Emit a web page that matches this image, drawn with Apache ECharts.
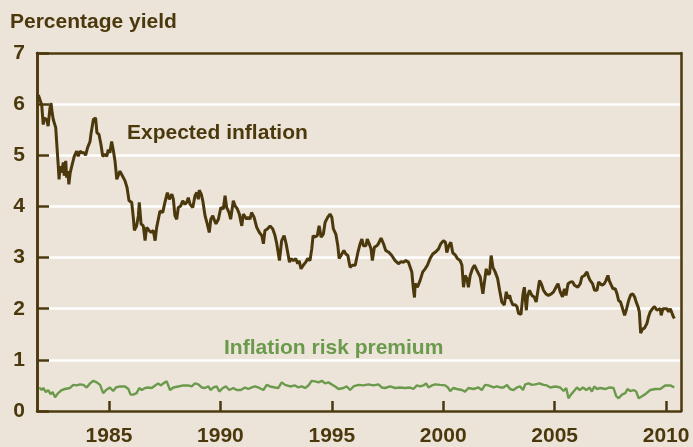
<!DOCTYPE html>
<html>
<head>
<meta charset="utf-8">
<script src="https://cdn.jsdelivr.net/npm/echarts@6/dist/echarts.min.js"></script>
<style>
html, body { margin: 0; padding: 0; background: #ece4d8; }
#chart { width: 693px; height: 447px; }
</style>
</head>
<body>
<div id="chart"></div>
<script>
// expected inflation (year, percent)
var expYears = [
  1981.83, 1981.90, 1981.98, 1982.05, 1982.09, 1982.20, 1982.27, 1982.35, 1982.40, 1982.45,
  1982.50, 1982.54, 1982.61, 1982.66, 1982.72, 1982.76, 1982.81, 1982.88, 1982.95, 1982.99,
  1983.06, 1983.10, 1983.15, 1983.20, 1983.26, 1983.35, 1983.44, 1983.55, 1983.62, 1983.70,
  1983.80, 1983.89, 1983.95, 1984.04, 1984.15, 1984.19, 1984.30, 1984.40, 1984.46, 1984.55,
  1984.64, 1984.72, 1984.82, 1984.90, 1984.97, 1985.04, 1985.12, 1985.19, 1985.27, 1985.35,
  1985.42, 1985.49, 1985.60, 1985.72, 1985.81, 1985.90, 1986.02, 1986.09, 1986.14, 1986.24,
  1986.32, 1986.36, 1986.44, 1986.54, 1986.62, 1986.69, 1986.80, 1986.89, 1986.99, 1987.07,
  1987.14, 1987.29, 1987.41, 1987.51, 1987.62, 1987.71, 1987.82, 1987.89, 1987.96, 1988.04,
  1988.11, 1988.22, 1988.31, 1988.41, 1988.49, 1988.56, 1988.64, 1988.76, 1988.86, 1988.94,
  1989.01, 1989.05, 1989.14, 1989.21, 1989.31, 1989.41, 1989.50, 1989.57, 1989.66, 1989.71,
  1989.80, 1989.91, 1990.02, 1990.13, 1990.21, 1990.28, 1990.39, 1990.46, 1990.58, 1990.66,
  1990.76, 1990.85, 1990.96, 1991.03, 1991.11, 1991.18, 1991.25, 1991.33, 1991.40, 1991.51,
  1991.63, 1991.75, 1991.86, 1991.93, 1992.00, 1992.11, 1992.23, 1992.35, 1992.45, 1992.53,
  1992.65, 1992.75, 1992.86, 1992.95, 1993.10, 1993.17, 1993.28, 1993.38, 1993.47, 1993.53,
  1993.62, 1993.72, 1993.83, 1993.92, 1994.02, 1994.10, 1994.16, 1994.25, 1994.35, 1994.43,
  1994.52, 1994.62, 1994.70, 1994.82, 1994.92, 1995.00, 1995.07, 1995.18, 1995.27, 1995.33,
  1995.45, 1995.54, 1995.63, 1995.72, 1995.82, 1995.92, 1996.05, 1996.17, 1996.27, 1996.35,
  1996.42, 1996.53, 1996.59, 1996.68, 1996.76, 1996.82, 1996.91, 1997.02, 1997.09, 1997.21,
  1997.32, 1997.42, 1997.57, 1997.69, 1997.84, 1997.99, 1998.11, 1998.21, 1998.32, 1998.44,
  1998.51, 1998.59, 1998.66, 1998.71, 1998.74, 1998.84, 1998.96, 1999.08, 1999.19, 1999.29,
  1999.41, 1999.53, 1999.68, 1999.79, 1999.89, 2000.01, 2000.10, 2000.16, 2000.25, 2000.34,
  2000.43, 2000.54, 2000.64, 2000.76, 2000.84, 2000.91, 2000.98, 2001.06, 2001.13, 2001.21,
  2001.31, 2001.40, 2001.51, 2001.58, 2001.66, 2001.78, 2001.84, 2001.93, 2001.99, 2002.08,
  2002.15, 2002.23, 2002.33, 2002.44, 2002.53, 2002.63, 2002.74, 2002.83, 2002.89, 2002.98,
  2003.04, 2003.13, 2003.23, 2003.31, 2003.38, 2003.49, 2003.58, 2003.64, 2003.73, 2003.78,
  2003.87, 2003.98, 2004.08, 2004.17, 2004.25, 2004.32, 2004.40, 2004.50, 2004.61, 2004.72,
  2004.85, 2004.95, 2005.06, 2005.15, 2005.25, 2005.35, 2005.44, 2005.51, 2005.60, 2005.70,
  2005.80, 2005.89, 2005.95, 2006.04, 2006.15, 2006.22, 2006.34, 2006.45, 2006.52, 2006.60,
  2006.70, 2006.79, 2006.90, 2006.97, 2007.05, 2007.12, 2007.23, 2007.30, 2007.39, 2007.45,
  2007.54, 2007.62, 2007.72, 2007.80, 2007.87, 2007.96, 2008.05, 2008.14, 2008.23, 2008.32,
  2008.41, 2008.51, 2008.59, 2008.66, 2008.74, 2008.80, 2008.86, 2008.94, 2009.03, 2009.14,
  2009.21, 2009.29, 2009.39, 2009.48, 2009.59, 2009.66, 2009.74, 2009.78, 2009.86, 2009.93,
  2010.04, 2010.11, 2010.19, 2010.26, 2010.33, 2010.38
];
var expValues = [
  6.18, 6.15, 5.99, 5.60, 5.73, 5.70, 5.57, 5.92, 6.02, 5.83,
  5.70, 5.73, 5.54, 5.21, 4.82, 4.53, 4.79, 4.66, 4.86, 4.60,
  4.89, 4.56, 4.69, 4.43, 4.66, 4.82, 4.98, 5.08, 4.98, 5.08,
  5.05, 5.05, 5.00, 5.15, 5.27, 5.41, 5.70, 5.73, 5.44, 5.41,
  5.21, 4.98, 5.02, 4.98, 5.11, 5.05, 5.27, 5.11, 4.89, 4.53,
  4.56, 4.69, 4.60, 4.50, 4.37, 4.11, 4.08, 3.79, 3.53, 3.62,
  3.82, 4.08, 3.66, 3.62, 3.33, 3.59, 3.53, 3.49, 3.53, 3.33,
  3.59, 3.91, 3.88, 4.08, 4.27, 4.14, 4.24, 4.14, 3.82, 3.75,
  3.98, 4.01, 4.11, 4.04, 4.08, 4.17, 4.04, 3.98, 4.21, 4.27,
  4.14, 4.32, 4.24, 4.11, 3.82, 3.66, 3.49, 3.75, 3.82, 3.75,
  3.66, 3.75, 3.98, 3.95, 4.21, 3.98, 3.88, 3.75, 4.11, 4.01,
  3.95, 3.85, 3.62, 3.85, 3.88, 3.75, 3.79, 3.75, 3.88, 3.79,
  3.59, 3.49, 3.43, 3.27, 3.53, 3.56, 3.62, 3.56, 3.43, 3.27,
  2.94, 3.33, 3.43, 3.27, 2.91, 2.98, 2.94, 2.98, 2.88, 2.94,
  2.78, 2.85, 2.91, 2.98, 2.94, 3.17, 3.43, 3.40, 3.43, 3.62,
  3.40, 3.46, 3.69, 3.79, 3.85, 3.79, 3.56, 3.46, 3.23, 2.98,
  3.07, 3.14, 3.07, 3.04, 2.81, 2.85, 2.85, 3.10, 3.27, 3.36,
  3.23, 3.23, 3.36, 3.27, 3.17, 2.94, 3.20, 3.23, 3.27, 3.38,
  3.27, 3.14, 3.10, 3.04, 2.94, 2.88, 2.92, 2.91, 2.94, 2.91,
  2.91, 2.72, 2.39, 2.22, 2.49, 2.42, 2.55, 2.72, 2.78, 2.85,
  2.98, 3.07, 3.12, 3.17, 3.27, 3.33, 3.30, 3.10, 3.23, 3.30,
  3.09, 3.05, 2.98, 2.94, 2.85, 2.42, 2.65, 2.59, 2.42, 2.65,
  2.78, 2.85, 2.75, 2.78, 2.62, 2.29, 2.49, 2.78, 2.68, 2.68,
  3.04, 2.81, 2.72, 2.59, 2.36, 2.13, 2.07, 2.33, 2.20, 2.26,
  2.16, 2.07, 2.08, 2.04, 1.91, 1.89, 2.29, 2.42, 1.97, 2.23,
  2.36, 2.26, 2.23, 2.13, 2.10, 2.55, 2.49, 2.36, 2.29, 2.26,
  2.29, 2.33, 2.42, 2.49, 2.33, 2.23, 2.39, 2.26, 2.49, 2.52,
  2.53, 2.46, 2.49, 2.42, 2.49, 2.62, 2.65, 2.72, 2.62, 2.55,
  2.49, 2.36, 2.36, 2.52, 2.55, 2.46, 2.49, 2.55, 2.65, 2.55,
  2.46, 2.39, 2.39, 2.29, 2.16, 2.13, 2.00, 1.87, 2.00, 2.16,
  2.27, 2.29, 2.23, 2.13, 2.04, 1.94, 1.52, 1.60, 1.62, 1.71,
  1.84, 1.94, 2.00, 2.04, 1.97, 1.94, 2.00, 1.87, 2.00, 1.97,
  2.00, 1.94, 2.00, 1.97, 1.84, 1.81
];

// inflation risk premium
var premYears = [
  1981.87, 1981.98, 1982.05, 1982.17, 1982.27, 1982.38, 1982.47, 1982.58, 1982.72, 1982.88,
  1983.02, 1983.25, 1983.40, 1983.55, 1983.70, 1983.85, 1984.00, 1984.15, 1984.30, 1984.45,
  1984.60, 1984.67, 1984.74, 1984.87, 1985.04, 1985.19, 1985.31, 1985.49, 1985.72, 1985.87,
  1985.97, 1986.09, 1986.24, 1986.36, 1986.47, 1986.62, 1986.76, 1986.92, 1987.07, 1987.21,
  1987.32, 1987.44, 1987.59, 1987.66, 1987.74, 1987.89, 1988.11, 1988.34, 1988.56, 1988.71,
  1988.86, 1989.01, 1989.16, 1989.31, 1989.46, 1989.57, 1989.68, 1989.84, 1989.95, 1990.11,
  1990.25, 1990.40, 1990.58, 1990.73, 1990.91, 1991.11, 1991.25, 1991.41, 1991.56, 1991.75,
  1991.93, 1992.08, 1992.23, 1992.45, 1992.60, 1992.75, 1992.90, 1993.13, 1993.35, 1993.50,
  1993.65, 1993.80, 1993.95, 1994.10, 1994.25, 1994.40, 1994.55, 1994.70, 1994.85, 1995.00,
  1995.15, 1995.30, 1995.52, 1995.67, 1995.82, 1995.97, 1996.19, 1996.42, 1996.64, 1996.87,
  1997.09, 1997.24, 1997.39, 1997.62, 1997.84, 1998.07, 1998.29, 1998.51, 1998.66, 1998.82,
  1998.96, 1999.11, 1999.23, 1999.34, 1999.49, 1999.64, 1999.86, 2000.09, 2000.23, 2000.31,
  2000.46, 2000.61, 2000.84, 2000.98, 2001.13, 2001.36, 2001.58, 2001.73, 2001.88, 2002.03,
  2002.26, 2002.41, 2002.56, 2002.70, 2002.86, 2003.00, 2003.15, 2003.31, 2003.45, 2003.58,
  2003.68, 2003.83, 2003.98, 2004.13, 2004.32, 2004.50, 2004.65, 2004.80, 2005.03, 2005.25,
  2005.40, 2005.52, 2005.62, 2005.73, 2005.85, 2006.00, 2006.12, 2006.27, 2006.42, 2006.57,
  2006.67, 2006.78, 2006.90, 2007.05, 2007.27, 2007.46, 2007.64, 2007.76, 2007.87, 2008.02,
  2008.17, 2008.27, 2008.39, 2008.54, 2008.66, 2008.77, 2008.92, 2009.07, 2009.29, 2009.52,
  2009.74, 2009.96, 2010.19, 2010.37
];
var premValues = [
  0.46, 0.41, 0.45, 0.37, 0.41, 0.33, 0.37, 0.27, 0.35, 0.41,
  0.43, 0.45, 0.51, 0.50, 0.52, 0.51, 0.46, 0.54, 0.59, 0.56,
  0.51, 0.54, 0.35, 0.41, 0.46, 0.39, 0.46, 0.48, 0.48, 0.43,
  0.32, 0.32, 0.35, 0.45, 0.41, 0.45, 0.46, 0.45, 0.50, 0.54,
  0.50, 0.54, 0.58, 0.59, 0.41, 0.46, 0.48, 0.50, 0.50, 0.48,
  0.54, 0.52, 0.46, 0.45, 0.48, 0.41, 0.46, 0.48, 0.38, 0.45,
  0.48, 0.41, 0.45, 0.41, 0.41, 0.46, 0.43, 0.46, 0.48, 0.45,
  0.41, 0.51, 0.48, 0.46, 0.45, 0.56, 0.51, 0.48, 0.50, 0.46,
  0.48, 0.45, 0.50, 0.59, 0.58, 0.56, 0.59, 0.54, 0.56, 0.52,
  0.48, 0.43, 0.45, 0.48, 0.41, 0.48, 0.51, 0.50, 0.52, 0.50,
  0.52, 0.46, 0.45, 0.48, 0.45, 0.46, 0.45, 0.46, 0.43, 0.50,
  0.48, 0.50, 0.54, 0.46, 0.50, 0.52, 0.51, 0.50, 0.45, 0.39,
  0.45, 0.43, 0.41, 0.38, 0.45, 0.43, 0.46, 0.41, 0.51, 0.50,
  0.46, 0.48, 0.46, 0.46, 0.51, 0.43, 0.41, 0.46, 0.48, 0.41,
  0.52, 0.54, 0.51, 0.52, 0.54, 0.51, 0.50, 0.46, 0.48, 0.46,
  0.39, 0.45, 0.25, 0.32, 0.38, 0.46, 0.41, 0.46, 0.41, 0.46,
  0.38, 0.48, 0.43, 0.45, 0.43, 0.46, 0.45, 0.29, 0.25, 0.32,
  0.35, 0.43, 0.39, 0.41, 0.38, 0.25, 0.29, 0.33, 0.41, 0.43,
  0.43, 0.50, 0.50, 0.46
];

var xTicks = [1985, 1990, 1995, 2000, 2005, 2010];

var brown = '#4b390d';
var green = '#6b9a4c';
var font = '"Liberation Sans", Arial, sans-serif';

function pairs(xs, ys) {
  var out = [];
  for (var i = 0; i < xs.length; i++) {
    out.push([xs[i], ys[i]]);
  }
  return out;
}

// plain frame axis (top / right edge of the box)
function frameAxis(pos) {
  return {
    type: 'value', position: pos, min: pos === 'top' ? 1981.77 : 0, max: pos === 'top' ? 2010.67 : 7,
    z: 5,
    axisLine: { show: true, onZero: false, lineStyle: { color: brown, width: 2.5 } },
    axisTick: { show: false }, axisLabel: { show: false }, splitLine: { show: false }
  };
}

var myChart = echarts.init(document.getElementById('chart'));
myChart.setOption({
  backgroundColor: '#ece4d8',
  animation: false,
  grid: { left: 37, top: 53, right: 12, bottom: 34 },
  xAxis: [{
    type: 'value',
    min: 1981.77,
    max: 2010.67,
    z: 5,
    axisLine: { show: true, onZero: false, lineStyle: { color: brown, width: 2.5 } },
    axisTick: { show: true, inside: true, length: 10, customValues: xTicks, lineStyle: { color: brown, width: 2.5 } },
    axisLabel: {
      customValues: xTicks, margin: 15, color: brown,
      fontFamily: font, fontWeight: 'bold', fontSize: 21,
      formatter: function (v) { return String(v); }
    },
    splitLine: { show: false }
  }, frameAxis('top')],
  yAxis: [{
    type: 'value',
    min: 0,
    max: 7,
    interval: 1,
    z: 0,
    axisLine: { show: true, onZero: false, lineStyle: { color: brown, width: 2.5 } },
    axisTick: { show: false },
    axisLabel: { margin: 12, color: brown, fontFamily: font, fontWeight: 'bold', fontSize: 21 },
    splitLine: { show: true, lineStyle: { color: '#ffffff', width: 2.5 } }
  }, frameAxis('right'), {
    // ticks drawn above the white grid lines
    type: 'value', position: 'left', min: 0, max: 7, interval: 1, z: 5,
    axisLine: { show: true, onZero: false, lineStyle: { color: brown, width: 2.5 } },
    axisTick: { show: true, inside: true, length: 12, lineStyle: { color: brown, width: 2.5 } },
    axisLabel: { show: false }, splitLine: { show: false }
  }],
  graphic: [
    { type: 'text', x: 10, y: 22, z: 10,
      style: { text: 'Percentage yield', fill: brown, font: 'bold 21px ' + font, textVerticalAlign: 'middle' } },
    { type: 'text', x: 127, y: 133, z: 10,
      style: { text: 'Expected inflation', fill: brown, font: 'bold 21px ' + font, textVerticalAlign: 'middle' } },
    { type: 'text', x: 224, y: 348, z: 10,
      style: { text: 'Inflation risk premium', fill: green, font: 'bold 21px ' + font, textVerticalAlign: 'middle' } }
  ],
  series: [
    {
      name: 'Inflation risk premium',
      type: 'line',
      data: pairs(premYears, premValues),
      showSymbol: false,
      lineStyle: { color: green, width: 2.4 }
    },
    {
      name: 'Expected inflation',
      type: 'line',
      data: pairs(expYears, expValues),
      showSymbol: false,
      lineStyle: { color: brown, width: 3 }
    }
  ]
});
</script>
</body>
</html>
